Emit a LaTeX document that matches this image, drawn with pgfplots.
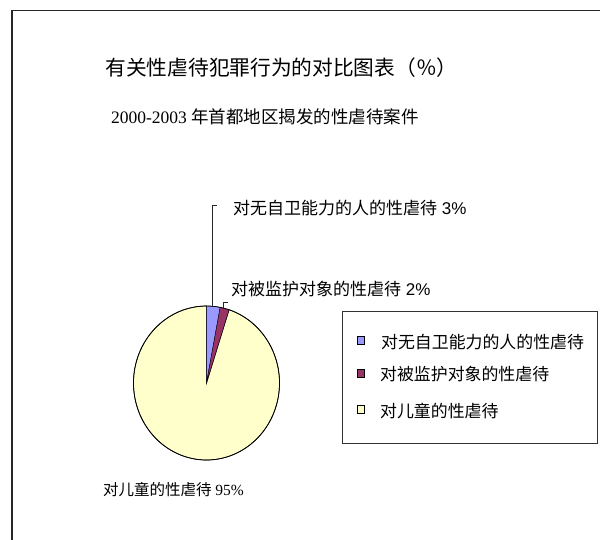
\documentclass[border=0pt]{standalone}
\usepackage{pgfplots}
\pgfplotsset{compat=1.18}
\usepackage{fontspec}
\setmainfont{Liberation Serif}
\newfontfamily\cjk{Noto Sans CJK SC}
\newfontfamily\arial{Liberation Sans}
\definecolor{sliceA}{HTML}{9999FF}
\definecolor{sliceB}{HTML}{993366}
\definecolor{sliceC}{HTML}{FFFFCC}
% pie values (percent)
\def\valA{3}
\def\valB{2}
\def\valC{95}
\begin{document}
\begin{tikzpicture}
\pgfmathsetmacro{\aS}{90}
\pgfmathsetmacro{\aE}{90-3.6*\valA}
\pgfmathsetmacro{\bE}{\aE-3.6*\valB}
\pgfmathsetmacro{\cE}{\bE-3.6*\valC}
\begin{axis}[
  width=600bp, height=540bp, scale only axis,
  hide axis, clip=false,
  xmin=0, xmax=600, ymin=0, ymax=540,
]
% frame (top and left)
\draw[line width=1.3bp, black!85] (axis cs:12,0) -- (axis cs:12,529.5) -- (axis cs:600,529.5);
% title
\node[font=\cjk\fontsize{20.7bp}{24bp}\selectfont] at (axis cs:281.5,472) {有关性虐待犯罪行为的对比图表（％）};
\node[font=\fontsize{17.5bp}{21bp}\selectfont] at (axis cs:265,423) {2000-2003 {\cjk 年首都地区揭发的性虐待案件}};
% pie
\fill[sliceC, draw=black, line width=0.7bp] (axis cs:206.5,157) -- ++(\bE:73bp and 77bp) arc[start angle=\bE, end angle=\cE, x radius=73bp, y radius=77bp] -- cycle;
\fill[sliceA, draw=black, line width=0.4bp] (axis cs:206.5,157) -- ++(\aS:73bp and 77bp) arc[start angle=\aS, end angle=\aE, x radius=73bp, y radius=77bp] -- cycle;
\fill[sliceB, draw=black, line width=0.4bp] (axis cs:206.5,157) -- ++(\aE:73bp and 77bp) arc[start angle=\aE, end angle=\bE, x radius=73bp, y radius=77bp] -- cycle;
\draw[line width=0.7bp] (axis cs:206.5,157) ellipse[x radius=73bp, y radius=77bp];
% leader lines
\draw[line width=0.9bp, black!85] (axis cs:217,335) -- (axis cs:212.5,335) -- (axis cs:212.5,234);
\draw[line width=0.9bp, black!85] (axis cs:228,238) -- (axis cs:223.5,238) -- (axis cs:223.5,232);
% data labels
\node[anchor=west, inner sep=0pt, font=\cjk\fontsize{17bp}{20bp}\selectfont] at (axis cs:233,332) {对无自卫能力的人的性虐待{\arial\ 3\%}};
\node[anchor=west, inner sep=0pt, font=\cjk\fontsize{17bp}{20bp}\selectfont] at (axis cs:231,251) {对被监护对象的性虐待{\arial\ 2\%}};
\node[inner sep=0pt, font=\cjk\fontsize{15.5bp}{19bp}\selectfont] at (axis cs:173.5,50) {对儿童的性虐待{\rmfamily\ 95\%}};
% legend
\draw[line width=1bp, black!80] (axis cs:342,228) rectangle (axis cs:597,96);
\draw[fill=sliceA, line width=0.6bp] (axis cs:357,203.5) rectangle (axis cs:364.5,196);
\draw[fill=sliceB, line width=0.6bp] (axis cs:357,170.5) rectangle (axis cs:364.5,163);
\draw[fill=sliceC, line width=0.6bp] (axis cs:357,134.5) rectangle (axis cs:364.5,127);
\node[anchor=west, inner sep=0pt, font=\cjk\fontsize{16.9bp}{20bp}\selectfont] at (axis cs:381,198) {对无自卫能力的人的性虐待};
\node[anchor=west, inner sep=0pt, font=\cjk\fontsize{16.9bp}{20bp}\selectfont] at (axis cs:380,166) {对被监护对象的性虐待};
\node[anchor=west, inner sep=0pt, font=\cjk\fontsize{16.9bp}{20bp}\selectfont] at (axis cs:380,129) {对儿童的性虐待};
\end{axis}
\pgfresetboundingbox
\path[use as bounding box] (0,0) rectangle (600bp,540bp);
\end{tikzpicture}
\end{document}
